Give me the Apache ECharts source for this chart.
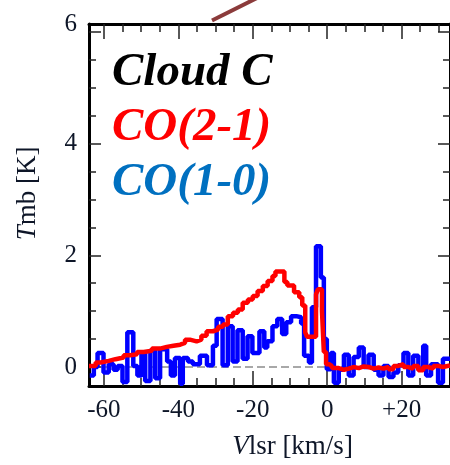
<!DOCTYPE html>
<html><head><meta charset="utf-8">
<script src="https://cdn.jsdelivr.net/npm/echarts@6/dist/echarts.min.js"></script>
<style>html,body{margin:0;padding:0;background:#fff}#c{width:450px;height:465px}</style>
</head><body><div id="c"></div>
<script>
// CO(1-0) spectrum: channel edges (km/s) and Tmb (K)
const blueV = [-63.8,-62.7,-61.7,-60.1,-58.7,-57.4,-56.3,-55.0,-53.7,-52.1,-51.0,-49.9,-48.9,-47.5,-46.2,-44.9,-43.0,-42.0,-40.9,-39.5,-38.8,-37.4,-36.1,-34.2,-32.3,-30.7,-29.7,-28.1,-26.7,-25.4,-24.1,-22.7,-21.4,-20.1,-18.2,-16.9,-16.1,-14.7,-13.4,-12.1,-11.0,-9.7,-8.3,-7.0,-6.2,-4.9,-4.1,-3.0,-1.7,-0.9,-0.1,1.0,1.8,3.1,4.5,5.8,7.1,8.5,9.8,11.1,12.5,13.8,15.1,16.5,17.8,19.1,20.5,21.8,23.1,24.5,25.8,26.6,27.9,29.8,31.1,33.0];
const blueT = [-0.15,0.0,0.25,-0.1,0.05,-0.05,0.02,-0.27,0.62,0.02,
  -0.15,0.25,-0.25,0.3,-0.2,0.32,0.1,-0.15,0.16,-0.3,
  0.16,0.1,0.05,0.2,0.03,0.38,0.86,0.03,0.73,0.1,
  0.66,0.15,0.55,0.25,0.64,0.35,0.46,0.73,0.86,0.59,
  0.8,0.91,0.89,0.78,0.2,0.08,1.07,2.16,1.6,0.5,
  -0.04,0.25,-0.28,-0.05,0.22,-0.15,0.18,0.35,0.0,0.22,
  -0.05,-0.15,0.02,-0.18,-0.1,0.03,0.25,-0.15,0.2,-0.05,
  0.38,-0.15,0.05,-0.28,0.15];
// CO(2-1) spectrum
const redV = [-64.0,-62.2,-60.9,-58.7,-56.9,-54.7,-52.9,-51.1,-49.3,-47.1,-44.9,-43.1,-41.3,-39.5,-38.2,-36.9,-35.1,-33.8,-32.4,-30.7,-29.3,-28.0,-26.7,-25.3,-24.0,-22.7,-21.3,-20.0,-18.7,-17.3,-16.0,-14.7,-13.9,-11.5,-10.7,-8.9,-7.5,-6.7,-5.9,-5.4,-3.0,-2.5,-1.4,-0.9,-0.3,0.5,1.25,3.1,4.5,5.8,7.1,8.5,9.8,11.1,12.5,13.8,15.1,16.5,17.8,19.1,20.5,21.8,23.1,24.5,25.8,27.1,28.5,29.8,31.1,33.0];
const redT = [0.02,0.08,0.11,0.14,0.17,0.21,0.23,0.27,0.29,0.33,
  0.36,0.38,0.40,0.43,0.49,0.46,0.49,0.56,0.64,0.67,
  0.72,0.76,0.91,0.97,1.03,1.15,1.21,1.27,1.36,1.45,
  1.54,1.63,1.71,1.52,1.46,1.34,1.25,1.1,0.62,0.54,
  1.3,1.39,1.0,0.27,0.05,0.02,-0.02,-0.05,-0.03,0.0,
  -0.02,0.01,0.0,-0.03,-0.01,-0.03,0.0,-0.04,0.02,0.05,
  0.0,-0.03,0.02,-0.06,0.0,-0.03,0.02,0.0,0.03];
const baseV = [-64, 33];
const baseT = [0, 0];
const xMajor = [-60,-40,-20,0,20];
const xMinor = [-60,-55,-50,-45,-40,-35,-30,-25,-20,-15,-10,-5,0,5,10,15,20,25,30];
const yMajor = [0,2,4,6];
const yMinor = [0.5,1,1.5,2.5,3,3.5,4.5,5,5.5];
const yLabels = [0,2,4,6.14];
const xTitle = 'Vlsr [km/s]';
const yTitle = 'Tmb [K]';
const texts = ['Cloud C','CO(2-1)','CO(1-0)'];

function stepData(v, t) {
  const d = t.map((y, i) => [v[i], y]);
  d.push([v[v.length - 1], t[t.length - 1]]);
  return d;
}
const FONT = '"Liberation Serif","Times New Roman",serif';
const TXT = '#0e1628';
const X0 = -64, X1 = 33, Y0 = -0.34, Y1 = 6.14;

function xAx(pos, major, line, withLabel) {
  const a = {type: 'value', min: X0, max: X1, position: pos, z: 3,
    axisLine: {show: line, onZero: false, lineStyle: {color: '#000', width: 3}},
    axisTick: {show: true, inside: true, length: major ? 15 : 8, lineStyle: {color: '#222', width: 1.5}, customValues: major ? xMajor : xMinor},
    axisLabel: {show: false}, splitLine: {show: false}};
  if (withLabel) {
    a.axisLabel = {show: true, customValues: xMajor, formatter: v => v > 0 ? '+' + v : String(v),
      fontFamily: FONT, fontSize: 25, color: TXT, margin: 12};
    a.name = '{i|' + xTitle.charAt(0) + '}' + xTitle.slice(1);
    a.nameLocation = 'middle';
    a.nameGap = 47;
    a.nameMoveOverlap = false;
    a.nameTextStyle = {fontFamily: FONT, fontSize: 27, color: TXT, padding: [0, 0, 0, 46],
      rich: {i: {fontStyle: 'italic'}}};
  }
  return a;
}
function yAx(pos, major, line, withLabel) {
  const a = {type: 'value', min: Y0, max: Y1, position: pos, z: 3,
    axisLine: {show: line, onZero: false, lineStyle: {color: '#000', width: 3}},
    axisTick: {show: true, inside: true, length: major ? 12 : 7, lineStyle: {color: '#222', width: 1.5}, customValues: major ? yMajor : yMinor},
    axisLabel: {show: false}, splitLine: {show: false}};
  if (withLabel) {
    a.axisLabel = {show: true, customValues: yLabels, formatter: v => String(Math.round(v)),
      fontFamily: FONT, fontSize: 25, color: TXT, margin: 12};
    a.name = '{i|' + yTitle.charAt(0) + '}' + yTitle.slice(1);
    a.nameLocation = 'middle';
    a.nameGap = 48;
    a.nameRotate = 90;
    a.nameMoveOverlap = false;
    a.nameTextStyle = {fontFamily: FONT, fontSize: 27, color: TXT, padding: [0, 0, 0, 23],
      rich: {i: {fontStyle: 'italic'}}};
  }
  return a;
}
function rs(color) {
  return {color: color, fontFamily: FONT, fontSize: 47, fontWeight: 'bold', fontStyle: 'italic', lineHeight: 55};
}
const chart = echarts.init(document.getElementById('c'));
chart.setOption({
  animation: false,
  grid: {left: 89, top: 24, width: 364, height: 363},
  title: {left: 112, top: 45, padding: 0,
    text: '{k|' + texts[0] + '}\n{r|' + texts[1] + '}\n{b|' + texts[2] + '}',
    textStyle: {rich: {k: rs('#000'), r: rs('#ff0000'), b: rs('#0070c0')}}},
  xAxis: [xAx('bottom', true, true, true), xAx('bottom', false, false, false), xAx('top', true, true, false), xAx('top', false, false, false)],
  yAxis: [yAx('left', true, true, true), yAx('left', false, false, false), yAx('right', true, true, false), yAx('right', false, false, false)],
  graphic: [{type: 'line', shape: {x1: 212, y1: 20.5, x2: 257, y2: -2}, style: {stroke: '#8b3b3b', lineWidth: 4}}],
  series: [
    {type: 'line', data: baseV.map((v, i) => [v, baseT[i]]), symbol: 'none',
      lineStyle: {color: '#a8a8a8', width: 2, type: 'dashed'}},
    {type: 'line', step: 'end', data: stepData(blueV, blueT), symbol: 'none',
      lineStyle: {color: '#0000ff', width: 4.5}},
    {type: 'line', step: 'end', data: stepData(redV, redT), symbol: 'none',
      lineStyle: {color: '#ff0000', width: 4.5}}
  ]
});
</script></body></html>
